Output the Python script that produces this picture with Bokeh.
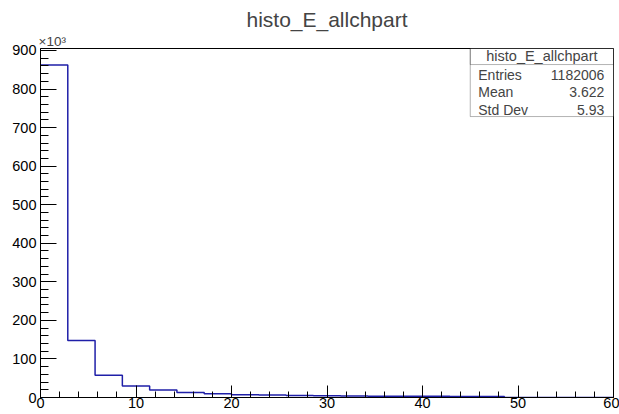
import numpy as np
from bokeh.plotting import figure
from bokeh.models import Range1d, SingleIntervalTicker, BoxAnnotation, Label, Title, CustomJSTickFormatter
from bokeh.embed import file_html
from bokeh.resources import INLINE

# ---- data ----
x_min, x_max, n_bins = 0.0, 60.0, 21
counts = [862000, 148000, 58000, 30000, 19500, 13000, 9500, 7000, 6500,
          5000, 4500, 4000, 3500, 3500, 3000, 2800, 2500, 0, 0, 0, 0]
hist_title = "histo_E_allchpart"
stat_names = ["Entries", "Mean", "Std Dev"]
stat_values = ["1182006", "3.622", "5.93"]
y_multiplier = "×10³"

edges = np.linspace(x_min, x_max, n_bins + 1)
step_y = list(counts) + [0]
ymax = 1.05 * max(counts)

FONT = "Liberation Sans"
HIST_COLOR = "#1f1fa8"

p = figure(width=619, height=414, output_backend="svg", toolbar_location=None,
           x_range=Range1d(x_min, x_max), y_range=Range1d(0, ymax),
           min_border_left=40, min_border_right=6, min_border_top=48,
           min_border_bottom=17)
p.background_fill_color = "white"
p.border_fill_color = "white"
p.outline_line_color = "black"
p.outline_line_width = 1
p.grid.visible = False

# multiplier (closest to the frame) then main title
p.add_layout(Title(text=y_multiplier, align="left", text_font=FONT,
                   text_font_size="13.5px", text_font_style="normal",
                   standoff=0, offset=-2), "above")
p.add_layout(Title(text=hist_title, align="center", text_font=FONT,
                   text_font_size="21px", text_font_style="normal",
                   standoff=1), "above")

p.step(x=edges, y=step_y, mode="after", line_color=HIST_COLOR, line_width=1.5)

# axes
xa = p.xaxis[0]
xa.ticker = SingleIntervalTicker(interval=10, num_minor_ticks=5)
xa.major_tick_in = 12
xa.major_tick_out = 0
xa.minor_tick_in = 6
xa.minor_tick_out = 0
xa.major_label_standoff = 0

ya = p.yaxis[0]
ya.ticker = SingleIntervalTicker(interval=100000, num_minor_ticks=5)
ya.major_tick_in = 16
ya.major_tick_out = 0
ya.minor_tick_in = 8
ya.minor_tick_out = 0
ya.major_label_standoff = 4
ya.formatter = CustomJSTickFormatter(code="return (tick/1000).toFixed(0);")

for ax in (xa, ya):
    ax.axis_line_color = "black"
    ax.major_tick_line_color = "black"
    ax.minor_tick_line_color = "black"
    ax.major_label_text_font = FONT
    ax.major_label_text_font_size = "14.5px"
    ax.major_label_text_color = "black"

# stats box
span_x = x_max - x_min
bx_left = x_min + 0.75 * span_x
bx_right = x_max
by_top = ymax
by_bottom = ymax * (1 - 0.195)
by_sep = ymax * (1 - 0.046)
p.add_layout(BoxAnnotation(left=bx_left, right=bx_right, top=by_top, bottom=by_bottom,
                           fill_color="white", fill_alpha=1, line_color="black",
                           line_width=1, level="annotation"))
p.add_layout(BoxAnnotation(left=bx_left, right=bx_right, top=by_top, bottom=by_sep,
                           fill_alpha=0, line_color="black", line_width=1,
                           level="annotation"))
p.add_layout(Label(x=(bx_left + bx_right) / 2, y=ymax * (1 - 0.022), text=hist_title,
                   text_font=FONT, text_font_size="14.5px", text_align="center",
                   text_baseline="middle"))
row_fracs = [0.0745, 0.125, 0.175]
for name, val, fr in zip(stat_names, stat_values, row_fracs):
    yy = ymax * (1 - fr)
    p.add_layout(Label(x=bx_left + 0.014 * span_x, y=yy, text=name, text_font=FONT,
                       text_font_size="14px", text_align="left", text_baseline="middle"))
    p.add_layout(Label(x=bx_right - 0.016 * span_x, y=yy, text=val, text_font=FONT,
                       text_font_size="14px", text_align="right", text_baseline="middle"))

open("out.html", "w").write(file_html(p, INLINE))
